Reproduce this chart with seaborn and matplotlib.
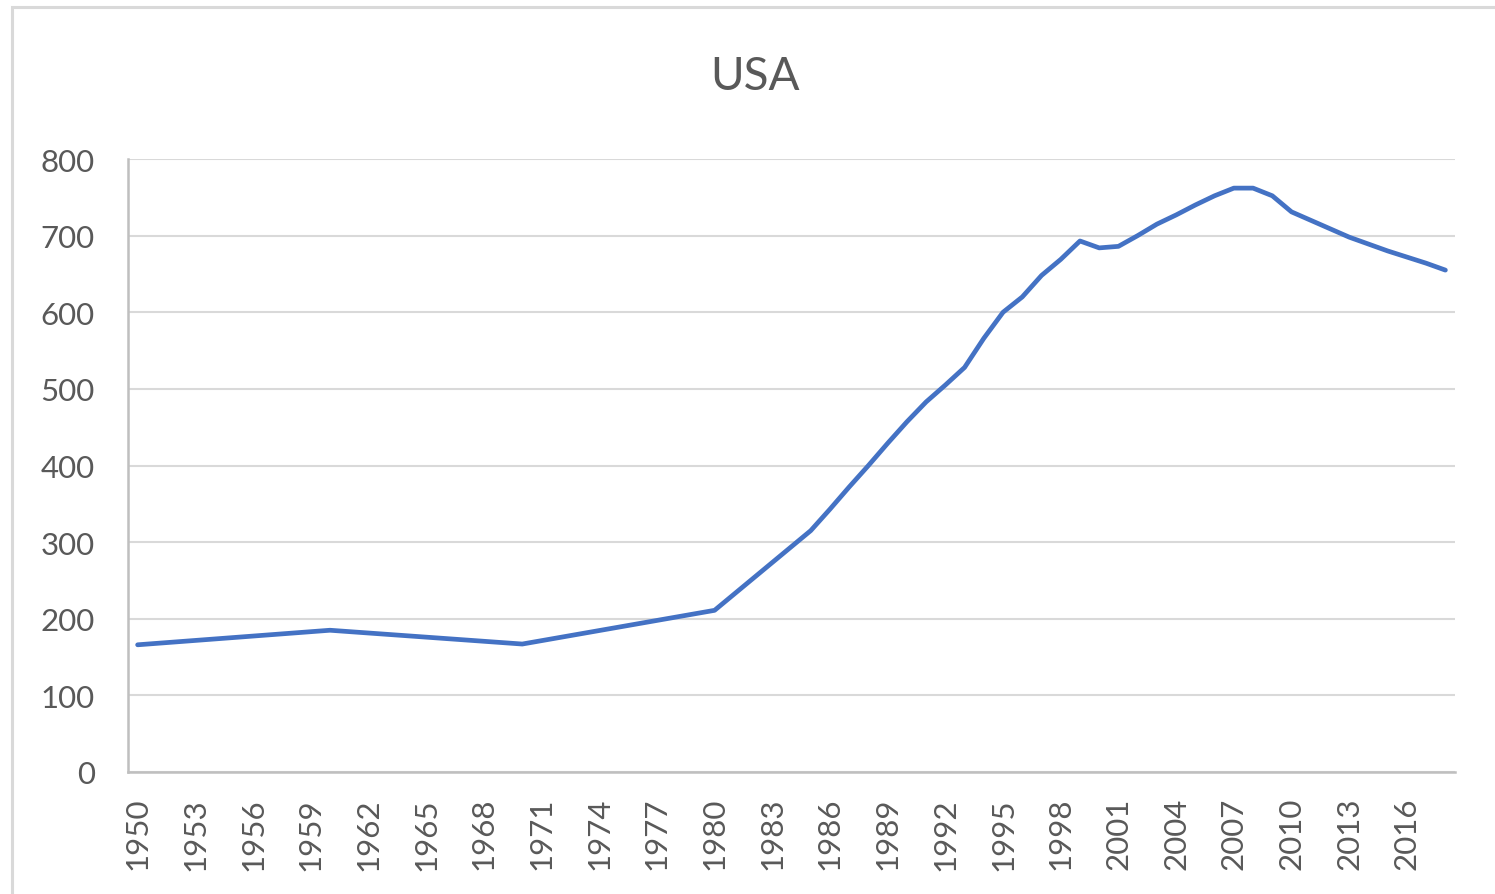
import matplotlib
matplotlib.use('Agg')
import matplotlib.pyplot as plt
import seaborn as sns
import pandas as pd
from matplotlib.patches import Rectangle

years = list(range(1950, 2019))
values = [166.0, 167.9, 169.8, 171.7, 173.6, 175.5, 177.4, 179.3, 181.2, 183.1,
          185.0, 183.2, 181.4, 179.6, 177.8, 176.0, 174.2, 172.4, 170.6, 168.8,
          167.0, 171.4, 175.8, 180.2, 184.6, 189.0, 193.4, 197.8, 202.2, 206.6,
          211.0, 231.8, 252.6, 273.4, 294.2, 315.0, 343.0, 372.0, 400.0, 429.0,
          457.0, 483.0, 505.0, 528.0, 566.0, 600.0, 620.0, 648.0, 669.0, 693.0,
          684.0, 686.0, 700.0, 715.0, 727.0, 740.0, 752.0, 762.0, 762.0, 752.0,
          731.0, 720.0, 709.0, 698.0, 689.0, 680.0, 672.0, 664.0, 655.0]
tick_years = years[:-1:3]

df = pd.DataFrame({'year': years, 'value': values})

sns.set_style('white')
plt.rcParams['font.family'] = ['Lato', 'DejaVu Sans']

fig = plt.figure(figsize=(14.95, 8.95), dpi=100)
ax = fig.add_axes([128/1495, 1-773/895, (1455-128)/1495, (773-160)/895])

# outer chart border (light grey)
fig.patches.append(Rectangle((12/1495, -0.1), 1.2, 1-8/895+0.1, transform=fig.transFigure,
                             fill=False, edgecolor='#d9d9d9', linewidth=2.2))

sns.lineplot(data=df, x='year', y='value', ax=ax, color='#4472C4', linewidth=3.4)

ax.set_xlim(1949.5, 2018.5)
ax.set_ylim(0, 800)
ax.set_yticks(range(0, 801, 100))
ax.set_xticks(tick_years)
ax.set_xticklabels([str(y) for y in tick_years], rotation=90)
ax.grid(axis='y', color='#d9d9d9', linewidth=1.5)
ax.set_axisbelow(True)
for s in ['top', 'right']:
    ax.spines[s].set_visible(False)
for s in ['left', 'bottom']:
    ax.spines[s].set_color('#bfbfbf')
    ax.spines[s].set_linewidth(1.8)
ax.tick_params(axis='y', length=0, pad=24, labelsize=22.5, labelcolor='#595959')
ax.tick_params(axis='x', length=0, pad=18, labelsize=22.5, labelcolor='#595959')
ax.set_xlabel('')
ax.set_ylabel('')

fig.text(755/1495, 1-77/895, 'USA', ha='center', va='center', fontsize=33, color='#595959')

fig.savefig('out.png', dpi=100)
